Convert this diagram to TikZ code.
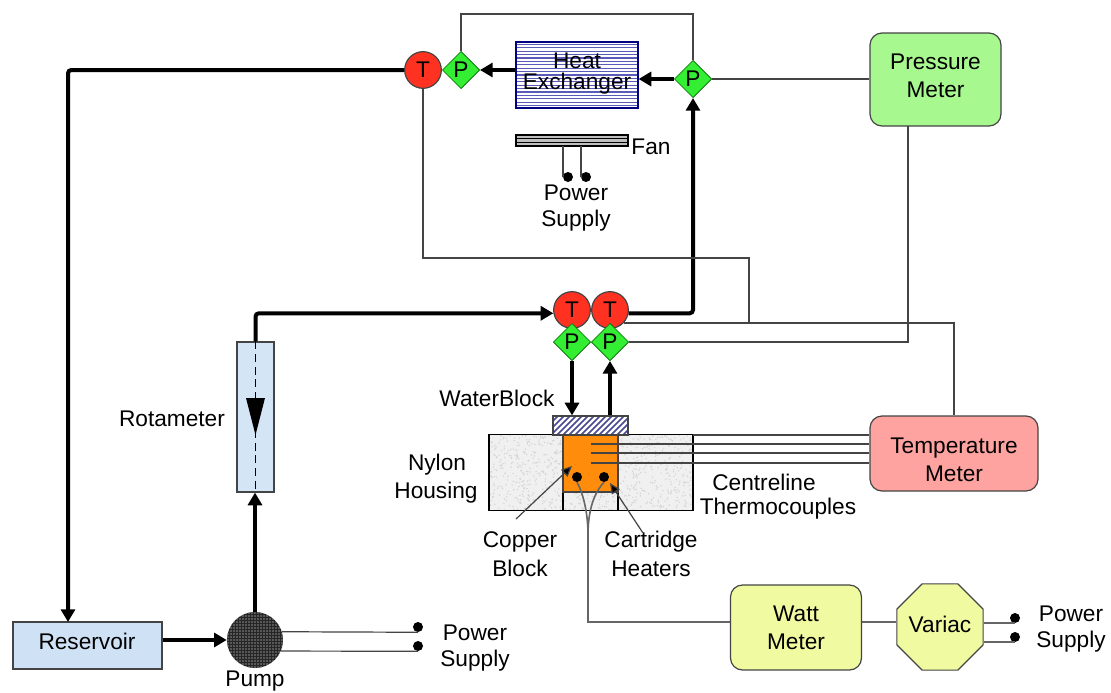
\documentclass[tikz,border=0pt]{standalone}
\usepackage{fontspec}
\setmainfont{Liberation Sans}
\usetikzlibrary{arrows.meta,shapes.geometric,calc}
\definecolor{wire}{HTML}{444444}
\definecolor{sred}{RGB}{255,50,34}
\definecolor{sgreen}{RGB}{51,238,51}
\definecolor{hxblue}{RGB}{90,90,185}
\tikzset{
  x=0.75pt,y=-0.75pt,
  every node/.style={font=\fontsize{17}{21.3}\selectfont,align=center,inner sep=0pt},
  edge box/.style={draw=wire,line width=0.9pt},
  sized/.style n args={2}{minimum width=#1*0.75pt,minimum height=#2*0.75pt},
  rbox/.style={edge box,rounded corners=9pt},
  tsense/.style={circle,edge box,fill=sred,minimum size=27.5pt},
  psense/.style={diamond,aspect=1,draw=black!60!green,line width=0.5pt,fill=sgreen,minimum size=28pt},
  bigdot/.style={circle,fill=black,minimum size=7.5pt},
  pipe/.style={line width=3pt,rounded corners=2.5pt,-{Triangle[length=9.5pt,width=10.5pt]}},
  thin wire/.style={wire,line width=0.9pt},
  soft wire/.style={black!60,line width=1.2pt},
  leader/.style={wire,line width=0.9pt,-{Triangle[length=8pt,width=7pt,fill=black]}},
  speckle/.style n args={3}{path picture={%
    \foreach \k in {1,...,#3}
      \fill[black!17] ({(rnd-0.5)*#1},{(rnd-0.5)*#2}) circle (0.8);}},
}
\begin{document}
\begin{tikzpicture}
\useasboundingbox (0,0) rectangle (1111,693);
\pgfmathsetseed{7}
% housing
\node[edge box,fill=black!6,sized={204}{76},speckle={204}{76}{900},draw=black] (Hou) at (591,472.5) {};
\node[edge box,fill=black!6,sized={55}{19},speckle={55}{19}{60},draw=black] (Low) at (590.5,501) {};
\node[edge box,sized={55}{57},fill={rgb,255:red,255;green,140;blue,10}] (Cu) at (590.5,463.5) {};
\node[edge box,sized={75}{19},fill=white,path picture={%
   \foreach \k in {-60,-54,...,40}
     \draw[hxblue!80!black,line width=1.3pt] (\k,12) -- (\k+24,-12);}] (WB) at (590.5,425.5) {};
% sensors
\node[tsense] (Tt) at (423,70) {T};
\node[psense] (Pt) at (461,70) {P};
\node[psense] (Pr) at (693,79) {P};
\node[tsense] (Ta) at (572,310) {T};
\node[tsense] (Tb) at (610,310) {T};
\node[psense] (Pa) at (572,342) {P};
\node[psense] (Pb) at (610,342) {P};
% heat exchanger and fan
\node[edge box,draw=black!50!blue,sized={122}{66},fill=white,path picture={%
   \foreach \k in {-34,-30.6,...,34}
     \draw[hxblue,line width=0.95pt] (-62,\k) -- (62,\k);}] (HX) at (577,75) {};
\node (HXa) at (577,61) {Heat};
\node (HXb) at (577,84) {Exchanger};
\node[draw=black,line width=0.9pt,sized={112}{11},fill=black!25,path picture={%
   \foreach \k in {-5,-1.6,2}
     \draw[black,line width=0.7pt] (-57,\k) -- (57,\k);}] (Fan) at (572,140.5) {};
\node (FanT) at (651,147) {Fan};
\node[bigdot] (Fd1) at (568,177) {};
\node[bigdot] (Fd2) at (586,177) {};
\node (FanPa) at (576,193) {Power};
\node (FanPb) at (576,221) {Supply};
% meters
\node[rbox,sized={131}{93},fill={rgb,255:red,168;green,248;blue,144}] (PM) at (935.5,79.5) {};
\node (PMT) at (935.5,76) {Pressure\\Meter};
\node[rbox,sized={168}{75},fill={rgb,255:red,255;green,163;blue,160}] (TM) at (954,453.5) {};
\node (TMT) at (954,460) {Temperature\\Meter};
\node[rbox,sized={131}{85},fill={rgb,255:red,240;green,250;blue,160}] (WM) at (796,627.5) {};
\node (WMT) at (796,628) {Watt\\Meter};
\node[regular polygon,regular polygon sides=8,edge box,minimum size=70pt,fill={rgb,255:red,240;green,250;blue,160}] (Var) at (940,627) {};
\node (VarT) at (940,624) {Variac};
% loop parts
\node[edge box,sized={37}{150},fill={rgb,255:red,212;green,229;blue,246}] (Rot) at (255.5,417) {};
\node[edge box,sized={149}{47},fill={rgb,255:red,207;green,226;blue,245}] (Res) at (87.5,645.5) {};
\node (ResT) at (87,641) {Reservoir};
\node[circle,fill=black!85,minimum size=42pt,path picture={%
   \foreach \a in {-30,-27,...,30} \foreach \b in {-30,-27,...,30}
     \fill[black!45] (\a,\b) circle (0.8);}] (Pump) at (255,640) {};
% dots
\node[bigdot] (Pd1) at (418,627) {};
\node[bigdot] (Pd2) at (418,646) {};
\node[bigdot] (Vd1) at (1015,618) {};
\node[bigdot] (Vd2) at (1015,637) {};
\node[bigdot] (H1) at (577,477) {};
\node[bigdot] (H2) at (604,477) {};
% labels
\node (RotT) at (172,419) {Rotameter};
\node (WBT) at (497,398) {WaterBlock};
\node (NyTa) at (437,465) {Nylon};
\node (NyTb) at (436,493) {Housing};
\node (CeT) at (764,482) {Centreline};
\node (ThT) at (778,509) {Thermocouples};
\node (CoT) at (520,554) {Copper\\Block};
\node (CaT) at (651,554) {Cartridge\\Heaters};
\node (PuT) at (255,681) {Pump};
\node (PpTa) at (475,633) {Power};
\node (PpTb) at (475,661) {Supply};
\node (PvTa) at (1071,614) {Power};
\node (PvTb) at (1071,642) {Supply};
% free coordinates
\coordinate (ResIn) at (68,622);
\coordinate (PMout) at (908,126);
\coordinate (BendA) at (749,258);
\coordinate (JoinA) at (749,322);
\coordinate (Top1) at (461,14);
\coordinate (Top2) at (693,14);
\coordinate (L1) at (563,146);
\coordinate (L2) at (581,146);
\coordinate (TC0) at (693,435);
\coordinate (TC1) at (591,444);
\coordinate (TC2) at (591,453);
\coordinate (TC3) at (591,463);
\coordinate (WireJ) at (588,535);
\coordinate (WireC) at (588,622);
\coordinate (CoA) at (516,519);
\coordinate (CoB) at (572,466);
\coordinate (CaA) at (643,533);
\coordinate (CaB) at (610,483);
% thick pipes
\draw[pipe] (Tt.west) -| (ResIn);
\draw[pipe] (Res.east |- Pump.west) -- (Pump.west);
\draw[pipe] (Pump.north) -- (Rot.south -| Pump.north);
\draw[pipe] (Rot.north) |- (Ta.190);
\draw[pipe] (Pa.south) -- (WB.north -| Pa.south);
\draw[pipe] (WB.north -| Pb.south) -- (Pb.south);
\draw[pipe] (Tb.-10) -| (Pr.south);
\draw[pipe] (Pr.west) -- (HX.east |- Pr.west);
\draw[pipe] (HX.west |- Pt.east) -- (Pt.east);
% thin wires
\draw[thin wire] (Pt.north) -- (Top1) -- (Top2) -- (Pr.north);
\draw[thin wire] (Pr.east) -- (PM.west |- Pr.east);
\draw[thin wire] (PMout) |- (Pb.east);
\draw[thin wire] (Tt.south) |- (BendA) -- (JoinA);
\draw[thin wire] (Tb.-43) -| (TM.north);
\draw[thin wire] (TC0) -- (TM.west |- TC0);
\draw[thin wire] (TC1) -- (TM.west |- TC1);
\draw[thin wire] (TC2) -- (TM.west |- TC2);
\draw[thin wire] (TC3) -- (TM.west |- TC3);
\draw[thin wire] (L1) |- (Fd1.west);
\draw[thin wire] (L2) |- (Fd2.west);
\draw[thin wire] (Pump.17) -- (Pd1.south);
\draw[thin wire] (Pump.-23) -- (Pd2.south);
\draw[soft wire] (H1.south) .. controls (584,495) and (588,515) .. (WireJ);
\draw[soft wire] (H2.south) .. controls (592,495) and (588,515) .. (WireJ);
\draw[soft wire] (WireJ) -- (WireC) -- (WM.west |- WireC);
\draw[soft wire] (WM.east |- WireC) -- (Var.west |- WireC);
\draw[soft wire] (Var.east |- Vd1.south) -- (Vd1.south);
\draw[soft wire] (Var.east |- Vd2.south) -- (Vd2.south);
\draw[leader] (CoA) -- (CoB);
\draw[leader] (CaA) -- (CaB);
% rotameter float
\draw[black,line width=1.2pt,dash pattern=on 6pt off 3.5pt] (Rot.north) -- (Rot.south);
\coordinate (FlA) at (246,398);
\coordinate (FlB) at (265,398);
\coordinate (FlC) at (255.5,435);
\fill[black] (FlA) -- (FlB) -- (FlC) -- cycle;
\end{tikzpicture}
\end{document}
